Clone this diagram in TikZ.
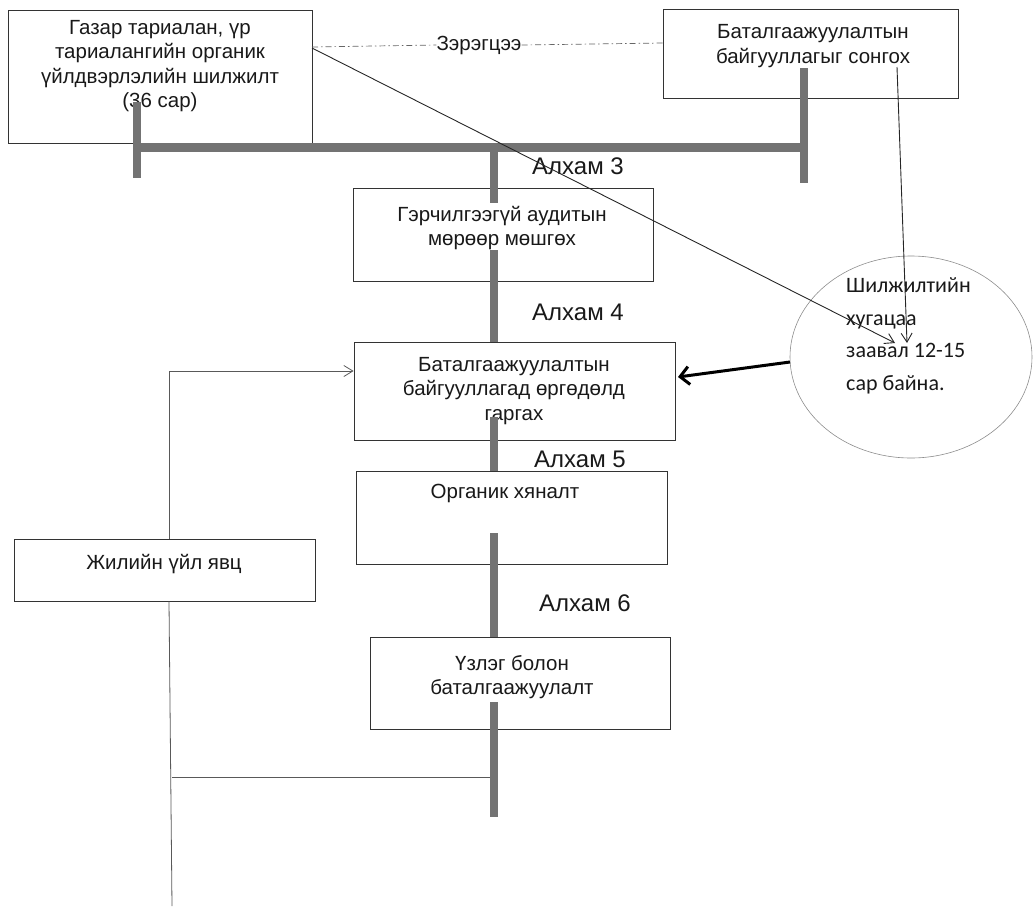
\documentclass[tikz,border=0pt]{standalone}
\usepackage{fontspec}
\setmainfont{Liberation Sans}
\newfontfamily\calib{Carlito}
\usetikzlibrary{arrows.meta,shapes.geometric}
\begin{document}
\begin{tikzpicture}[x=1pt,y=-1pt,
  box/.style={draw=black!80, line width=0.8pt, fill=white, inner sep=0pt},
  txt/.style={align=center, font=\fontsize{20.5}{24.5}\selectfont, inner sep=0pt, text=black!90},
  alx/.style={font=\fontsize{24}{28}\selectfont, inner sep=0pt, text=black!90},
  bar/.style={draw=black!55, line width=8pt},
  hbar/.style={draw=black!55, line width=9pt},
  thinln/.style={draw=black!85, line width=0.9pt},
  grayln/.style={draw=black!65, line width=0.8pt},
  dd/.style={draw=black!60, line width=0.7pt, dash pattern=on 6pt off 3pt on 1.5pt off 3pt},
  openv/.style={-{Straight Barb[length=9pt,width=11pt]}},
]
\useasboundingbox (0,0) rectangle (1034,906);

% boxes
\node[box, minimum width=304pt, minimum height=133pt] (b1) at (160,76.5) {};
\node[box, minimum width=295pt, minimum height=89pt] (b2) at (810.5,53.5) {};
\node[box, minimum width=300pt, minimum height=93pt] (b3) at (503,234.5) {};
\node[box, minimum width=321pt, minimum height=98pt] (b4) at (514.5,391) {};
\node[box, minimum width=311pt, minimum height=93pt] (b5) at (511.5,517.5) {};
\node[box, minimum width=300pt, minimum height=92pt] (b6) at (520,683) {};
\node[box, minimum width=301pt, minimum height=62pt] (b7) at (164.5,570) {};

% texts
\node[txt] (t1) at (160,66) {Газар тариалан, үр\\тариалангийн органик\\үйлдвэрлэлийн шилжилт\\(36 сар)};
\node[txt] (t2) at (813,46) {Баталгаажуулалтын\\байгууллагыг сонгох};
\node[txt] (t3) at (502,228) {Гэрчилгээгүй аудитын\\мөрөөр мөшгөх};
\node[txt] (t4) at (514,391) {Баталгаажуулалтын\\байгууллагад өргөдөлд\\гаргах};
\node[txt] (t5) at (505,493) {Органик хяналт};
\node[txt] (t6) at (512,677) {Үзлэг болон\\баталгаажуулалт};
\node[txt] (t7) at (164,564) {Жилийн үйл явц};

% step labels
\node[alx] (a3) at (578,166) {Алхам 3};
\node[alx] (a4) at (578,312) {Алхам 4};
\node[alx] (a5) at (580,459) {Алхам 5};
\node[alx] (a6) at (585,603) {Алхам 6};

% parallel label
\node[txt] (zer) at (479,45) {Зэрэгцээ};
\coordinate (z0) at (312,47);
\coordinate (z1) at (663,43);
\draw[dd] (z0) -- (zer.west);
\draw[dd] (zer.east) -- (z1);

% ellipse
\node[draw=black!45, line width=0.6pt, ellipse, minimum width=242pt, minimum height=202pt, inner sep=0pt] (el) at (911,357) {};
\node[anchor=west, align=left, inner sep=0pt, font=\calib\fontsize{22}{32.5}\selectfont, text=black!90] (et) at (846,336) {Шилжилтийн\\хугацаа\\заавал 12-15\\сар байна.};

% left thin connectors
\coordinate (c1) at (169,371);
\coordinate (c2) at (172,906);
\coordinate (c3) at (172,777);
\coordinate (s7) at (494,777);
\draw[grayln] (c1) -- (c1 |- b7.north);
\draw[grayln] (c1 |- b7.south) -- (c2);
\draw[grayln] (c3) -- (s7);
\draw[grayln, openv] (c1) -- (b4.west |- c1);

% thick gray bars
\coordinate (l0) at (137,102);
\coordinate (l1) at (137,178);
\coordinate (r0) at (804,68);
\coordinate (r1) at (804,183);
\coordinate (h0) at (133,147);
\coordinate (h1) at (808,147);
\draw[bar] (l0) -- (l1);
\draw[bar] (r0) -- (r1);
\draw[hbar] (h0) -- (h1);
\coordinate (s0) at (494,147);
\coordinate (s1) at (494,203);
\coordinate (s2) at (494,250);
\coordinate (s3) at (494,417);
\coordinate (s4) at (494,533);
\coordinate (s5) at (494,702);
\coordinate (s6) at (494,817);
\draw[bar] (s0) -- (s1);
\draw[bar] (s2) -- (s2 |- b4.north);
\draw[bar] (s3) -- (s3 |- b5.north);
\draw[bar] (s4) -- (s4 |- b6.north);
\draw[bar] (s5) -- (s6);

% arrows into ellipse
\coordinate (d0) at (312,48);
\coordinate (d1) at (895,343);
\coordinate (v0) at (897,67);
\coordinate (v1) at (907,343);
\draw[thinln, openv] (d0) -- (d1);
\draw[thinln, openv] (v0) -- (v1);

% thick arrow to step 4
\coordinate (k0) at (790,362);
\coordinate (k1) at (678,377);
\draw[draw=black, line width=3pt, -{Straight Barb[length=9pt,width=18pt]}] (k0) -- (k1);
\end{tikzpicture}
\end{document}
